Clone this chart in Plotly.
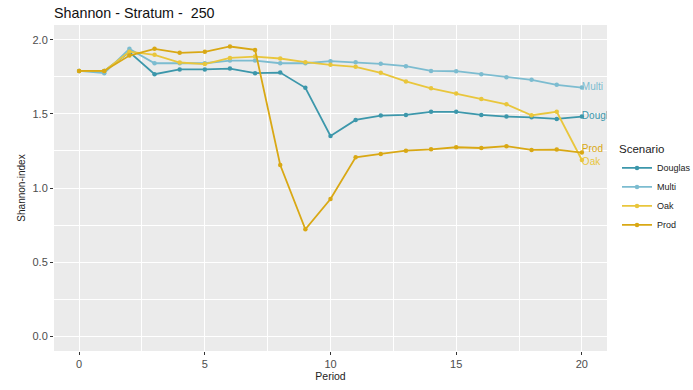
import plotly.graph_objects as go

periods = list(range(21))
douglas = [1.79, 1.79, 1.917, 1.768, 1.80, 1.80, 1.806, 1.775, 1.779, 1.676, 1.351,
           1.459, 1.489, 1.493, 1.514, 1.514, 1.493, 1.482, 1.477, 1.466, 1.482]
multi = [1.79, 1.775, 1.939, 1.842, 1.842, 1.842, 1.86, 1.86, 1.842, 1.842, 1.856,
         1.849, 1.838, 1.822, 1.79, 1.788, 1.768, 1.748, 1.73, 1.696, 1.678]
oak = [1.79, 1.79, 1.92, 1.899, 1.847, 1.836, 1.878, 1.887, 1.874, 1.849, 1.831,
       1.818, 1.777, 1.719, 1.673, 1.637, 1.601, 1.565, 1.491, 1.514, 1.189]
prod = [1.79, 1.79, 1.894, 1.939, 1.912, 1.919, 1.955, 1.932, 1.155, 0.721, 0.926,
        1.207, 1.23, 1.252, 1.261, 1.275, 1.27, 1.282, 1.257, 1.259, 1.239]

series = [("Douglas", douglas, "#3c97ab"),
          ("Multi", multi, "#7cbcd0"),
          ("Oak", oak, "#e9c63c"),
          ("Prod", prod, "#d9a814")]
label_offsets = {"Douglas": 0.0, "Multi": 0.0, "Oak": -0.02, "Prod": 0.02}

fig = go.Figure()
for name, vals, col in series:
    fig.add_trace(go.Scatter(x=periods, y=vals, name=name, mode="lines+markers",
                             line=dict(color=col, width=1.8),
                             marker=dict(color=col, size=4.5)))
for name, vals, col in series:
    fig.add_trace(go.Scatter(x=[periods[-1]], y=[vals[-1] + label_offsets[name]],
                             mode="text", text=[name], textposition="middle right",
                             textfont=dict(color=col, size=10, family="Liberation Sans, Arial"),
                             showlegend=False, cliponaxis=True, hoverinfo="skip"))

grid = "#ffffff"
fig.update_layout(
    width=693, height=390,
    margin=dict(l=54, r=86, t=25, b=39),
    paper_bgcolor="white", plot_bgcolor="#ebebeb",
    font=dict(family="Liberation Sans, Arial", color="#222222"),
    title=dict(text="Shannon - Stratum -  250", x=54/693, xanchor="left",
               y=1 - 13/390, yanchor="middle", font=dict(size=14.3, color="#111111")),
    legend=dict(title=dict(text="Scenario", font=dict(size=11.5)),
                xref="container", x=617/693, xanchor="left",
                yref="container", y=1 - 189/390, yanchor="middle",
                font=dict(size=9), tracegroupgap=0,
                itemwidth=30, bgcolor="rgba(0,0,0,0)"),
    xaxis=dict(range=[-1, 21], tickvals=[0, 5, 10, 15, 20], showgrid=True,
               gridcolor=grid, gridwidth=1.2, zeroline=False, automargin=False,
               minor=dict(tickvals=[2.5, 7.5, 12.5, 17.5], showgrid=True,
                          gridcolor=grid, gridwidth=0.6),
               ticks="outside", ticklen=3, tickcolor="#333333",
               tickfont=dict(size=11, color="#4d4d4d"),
               title=dict(text="Period", font=dict(size=10.5), standoff=0)),
    yaxis=dict(range=[-0.1, 2.1], tickvals=[0, 0.5, 1.0, 1.5, 2.0],
               ticktext=["0.0", "0.5", "1.0", "1.5", "2.0"], showgrid=True,
               gridcolor=grid, gridwidth=1.2, zeroline=False, automargin=False,
               minor=dict(tickvals=[0.25, 0.75, 1.25, 1.75], showgrid=True,
                          gridcolor=grid, gridwidth=0.6),
               ticks="outside", ticklen=3, tickcolor="#333333",
               tickfont=dict(size=11, color="#4d4d4d"),
               title=dict(text="Shannon-index", font=dict(size=10), standoff=5)),
)

fig.write_html("out.html", config={"responsive": False, "displayModeBar": False},
               post_script="document.body.style.margin='0';document.body.style.overflow='hidden';")
